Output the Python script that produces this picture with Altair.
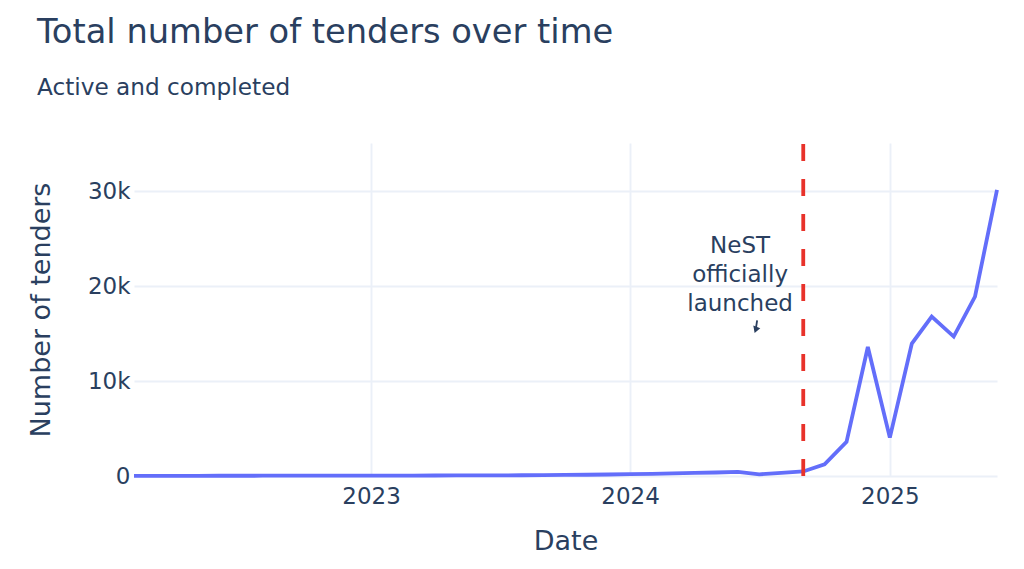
import altair as alt
import pandas as pd

# ---- data ----
months = [
    "2022-02-01", "2022-03-01", "2022-04-01", "2022-05-01", "2022-06-01", "2022-07-01",
    "2022-08-01", "2022-09-01", "2022-10-01", "2022-11-01", "2022-12-01",
    "2023-01-01", "2023-02-01", "2023-03-01", "2023-04-01", "2023-05-01", "2023-06-01",
    "2023-07-01", "2023-08-01", "2023-09-01", "2023-10-01", "2023-11-01", "2023-12-01",
    "2024-01-01", "2024-02-01", "2024-03-01", "2024-04-01", "2024-05-01", "2024-06-01",
    "2024-07-01", "2024-08-01", "2024-09-01", "2024-10-01", "2024-11-01", "2024-12-01",
    "2025-01-01", "2025-02-01", "2025-03-01", "2025-04-01", "2025-05-01", "2025-06-01",
]
tenders = [
    10, 15, 20, 20, 25, 25,
    30, 30, 35, 35, 40,
    40, 45, 50, 55, 60, 65,
    70, 80, 90, 110, 130, 160,
    190, 230, 270, 320, 370, 430,
    180, 320, 480, 1230, 3600, 13600,
    4050, 13950, 16800, 14700, 18900, 30150,
]

launch_dates = ["2024-09-01"]
annotation_labels = ["NeST\nofficially\nlaunched"]
annotation_dates = ["2024-06-04"]
annotation_values = [23500]
arrow_tail_dates = ["2024-06-28"]
arrow_tail_values = [16400]
arrow_tip_dates = ["2024-06-26"]
arrow_tip_values = [15400]

x_tick_years = [2023, 2024, 2025]
y_tick_values = [0, 10000, 20000, 30000]
y_max = 35100

TITLE = "Total number of tenders over time"
SUBTITLE = "Active and completed"

# ---- styling ----
FONT = "DejaVu Sans"
TEXT = "#2a3f5f"
GRID = "#EBF0F8"
LINE = "#636efa"
RED = "#e8322a"

df = pd.DataFrame({"date": months, "tenders": tenders})
launch_df = pd.DataFrame({"date": launch_dates})
ann_df = pd.DataFrame({"date": annotation_dates, "value": annotation_values, "label": annotation_labels})
arrow_df = pd.DataFrame({
    "date": arrow_tail_dates, "value": arrow_tail_values,
    "date2": arrow_tip_dates, "value2": arrow_tip_values,
})
tip_df = pd.DataFrame({"date": arrow_tip_dates, "value": arrow_tip_values})

x_scale = alt.Scale(
    type="utc",
    domain=[alt.DateTime(year=2022, month=2, date=1, utc=True),
            alt.DateTime(year=2025, month=6, date=1, utc=True)],
)
y_scale = alt.Scale(domain=[0, y_max], nice=False)

x_axis = alt.Axis(
    values=[alt.DateTime(year=y, month=1, date=1, utc=True) for y in x_tick_years],
    format="%Y", labelPadding=9, titlePadding=20,
)
y_axis = alt.Axis(
    values=y_tick_values,
    labelExpr="datum.value == 0 ? '0' : format(datum.value / 1000, 'd') + 'k'",
    labelPadding=4, titlePadding=32,
)

line = alt.Chart(df).mark_line(color=LINE, strokeWidth=3.8).encode(
    x=alt.X("date:T", scale=x_scale, axis=x_axis, title="Date"),
    y=alt.Y("tenders:Q", scale=y_scale, axis=y_axis, title="Number of tenders"),
)

launch = alt.Chart(launch_df).mark_rule(color=RED, strokeWidth=3.8, strokeDash=[17, 18]).encode(
    x=alt.X("date:T"),
    y=alt.datum(0),
    y2=alt.datum(y_max),
)

ann = alt.Chart(ann_df).mark_text(
    align="center", baseline="alphabetic", font=FONT, fontSize=23,
    lineHeight=29, lineBreak="\n", color=TEXT,
).encode(x="date:T", y="value:Q", text="label:N")

arrow_shaft = alt.Chart(arrow_df).mark_rule(color=TEXT, strokeWidth=1.8).encode(
    x="date:T", y="value:Q", x2="date2:T", y2="value2:Q",
)
arrow_head = alt.Chart(tip_df).mark_point(
    shape="triangle-down", filled=True, color=TEXT, size=55, opacity=1, angle=20,
).encode(x="date:T", y="value:Q")

chart = alt.layer(line, launch, ann, arrow_shaft, arrow_head).properties(
    width=863,
    height=333,
    background="white",
    padding={"left": 126, "top": 135, "right": 19, "bottom": 81},
    autosize=alt.AutoSizeParams(type="none"),
    title=alt.Title(
        TITLE, subtitle=SUBTITLE, anchor="start", frame="group", dx=-97,
        font=FONT, fontSize=33.7, fontWeight="normal", color=TEXT,
        subtitleFont=FONT, subtitleFontSize=23.2, subtitleColor=TEXT,
        subtitlePadding=27, offset=42,
    ),
).configure_view(stroke=None).configure_axis(
    labelFont=FONT, labelFontSize=23, labelColor=TEXT,
    titleFont=FONT, titleFontSize=27, titleColor=TEXT, titleFontWeight="normal",
    grid=True, gridColor=GRID, gridWidth=1.9,
    domain=False, ticks=False, tickSize=0,
)

chart.save("out.html", embed_options={"renderer": "svg", "actions": False})
